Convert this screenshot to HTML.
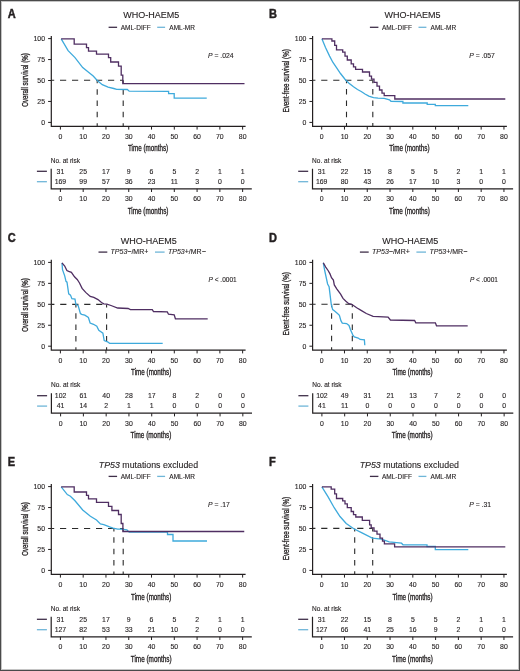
<!DOCTYPE html>
<html><head><meta charset="utf-8"><style>
html,body{margin:0;padding:0;background:#fff;width:520px;height:671px;overflow:hidden}
svg{display:block;filter:blur(0.3px)}
text{font-family:"Liberation Sans", sans-serif;stroke:#231f20;stroke-width:0.12px;paint-order:stroke}
.ax{stroke-width:0.32px}
.lt{stroke-width:0.45px}
</style></head><body>
<svg width="520" height="671" viewBox="0 0 520 671" font-family='"Liberation Sans", sans-serif'>
<rect x="0" y="0" width="520" height="671" fill="#fff"/>
<text x="7.7" y="17.7" font-size="12" text-anchor="start" font-weight="bold" font-style="normal" fill="#231f20" class="lt" transform="translate(7.5 0) scale(0.92 1) translate(-7.5 0)">A</text>
<text x="151.3" y="18.4" font-size="9" text-anchor="middle" font-weight="normal" font-style="normal" fill="#231f20" >WHO-HAEM5</text>
<line x1="108.6" y1="27.3" x2="117.1" y2="27.3" stroke="#3f2f49" stroke-width="1.3"/>
<text x="120.7" y="29.65" font-size="6.5" text-anchor="start" font-weight="normal" font-style="normal" fill="#231f20" >AML-DIFF</text>
<line x1="157.2" y1="27.3" x2="165.1" y2="27.3" stroke="#6fb6d8" stroke-width="1.3"/>
<text x="169.3" y="29.65" font-size="6.5" text-anchor="start" font-weight="normal" font-style="normal" fill="#231f20" >AML-MR</text>
<path d="M51.3 36V126.3H245.6" fill="none" stroke="#231f20" stroke-width="1.2"/>
<line x1="48.1" y1="122.4" x2="51.3" y2="122.4" stroke="#231f20" stroke-width="1"/>
<text x="45" y="124.8" font-size="6.9" text-anchor="end" font-weight="normal" font-style="normal" fill="#231f20" >0</text>
<line x1="48.1" y1="101.45" x2="51.3" y2="101.45" stroke="#231f20" stroke-width="1"/>
<text x="45" y="103.85" font-size="6.9" text-anchor="end" font-weight="normal" font-style="normal" fill="#231f20" >25</text>
<line x1="48.1" y1="80.5" x2="51.3" y2="80.5" stroke="#231f20" stroke-width="1"/>
<text x="45" y="82.9" font-size="6.9" text-anchor="end" font-weight="normal" font-style="normal" fill="#231f20" >50</text>
<line x1="48.1" y1="59.55" x2="51.3" y2="59.55" stroke="#231f20" stroke-width="1"/>
<text x="45" y="61.95" font-size="6.9" text-anchor="end" font-weight="normal" font-style="normal" fill="#231f20" >75</text>
<line x1="48.1" y1="38.6" x2="51.3" y2="38.6" stroke="#231f20" stroke-width="1"/>
<text x="45" y="41" font-size="6.9" text-anchor="end" font-weight="normal" font-style="normal" fill="#231f20" >100</text>
<text transform="translate(28 80) rotate(-90)" x="0" y="0" font-size="8.6" text-anchor="middle" class="ax" fill="#231f20" textLength="53.6" lengthAdjust="spacingAndGlyphs">Overall survival (%)</text>
<line x1="60.4" y1="126.3" x2="60.4" y2="129.6" stroke="#231f20" stroke-width="1"/>
<text x="60.4" y="138.9" font-size="6.9" text-anchor="middle" font-weight="normal" font-style="normal" fill="#231f20" >0</text>
<line x1="83.18" y1="126.3" x2="83.18" y2="129.6" stroke="#231f20" stroke-width="1"/>
<text x="83.18" y="138.9" font-size="6.9" text-anchor="middle" font-weight="normal" font-style="normal" fill="#231f20" >10</text>
<line x1="105.96" y1="126.3" x2="105.96" y2="129.6" stroke="#231f20" stroke-width="1"/>
<text x="105.96" y="138.9" font-size="6.9" text-anchor="middle" font-weight="normal" font-style="normal" fill="#231f20" >20</text>
<line x1="128.74" y1="126.3" x2="128.74" y2="129.6" stroke="#231f20" stroke-width="1"/>
<text x="128.74" y="138.9" font-size="6.9" text-anchor="middle" font-weight="normal" font-style="normal" fill="#231f20" >30</text>
<line x1="151.52" y1="126.3" x2="151.52" y2="129.6" stroke="#231f20" stroke-width="1"/>
<text x="151.52" y="138.9" font-size="6.9" text-anchor="middle" font-weight="normal" font-style="normal" fill="#231f20" >40</text>
<line x1="174.3" y1="126.3" x2="174.3" y2="129.6" stroke="#231f20" stroke-width="1"/>
<text x="174.3" y="138.9" font-size="6.9" text-anchor="middle" font-weight="normal" font-style="normal" fill="#231f20" >50</text>
<line x1="197.08" y1="126.3" x2="197.08" y2="129.6" stroke="#231f20" stroke-width="1"/>
<text x="197.08" y="138.9" font-size="6.9" text-anchor="middle" font-weight="normal" font-style="normal" fill="#231f20" >60</text>
<line x1="219.86" y1="126.3" x2="219.86" y2="129.6" stroke="#231f20" stroke-width="1"/>
<text x="219.86" y="138.9" font-size="6.9" text-anchor="middle" font-weight="normal" font-style="normal" fill="#231f20" >70</text>
<line x1="242.64" y1="126.3" x2="242.64" y2="129.6" stroke="#231f20" stroke-width="1"/>
<text x="242.64" y="138.9" font-size="6.9" text-anchor="middle" font-weight="normal" font-style="normal" fill="#231f20" >80</text>
<text x="148.1" y="150.9" font-size="8.2" text-anchor="middle" font-weight="normal" font-style="normal" fill="#231f20" class="ax" textLength="40.2" lengthAdjust="spacingAndGlyphs">Time (months)</text>
<text x="208" y="58.4" font-size="6.8" text-anchor="start" font-weight="normal" font-style="normal" fill="#231f20" ><tspan font-style="italic">P</tspan> = .024</text>
<text x="50.8" y="162.8" font-size="6.5" text-anchor="start" font-weight="normal" font-style="normal" fill="#231f20" >No. at risk</text>
<line x1="36.9" y1="171.3" x2="46.9" y2="171.3" stroke="#3f2f49" stroke-width="1.3"/>
<line x1="36.9" y1="181.7" x2="46.9" y2="181.7" stroke="#6fb6d8" stroke-width="1.3"/>
<path d="M51.2 168.8V188.8H251.8" fill="none" stroke="#231f20" stroke-width="1.2"/>
<line x1="60.4" y1="188.8" x2="60.4" y2="192" stroke="#231f20" stroke-width="1"/>
<text x="60.4" y="173.6" font-size="6.9" text-anchor="middle" font-weight="normal" font-style="normal" fill="#231f20" >31</text>
<text x="60.4" y="183.7" font-size="6.9" text-anchor="middle" font-weight="normal" font-style="normal" fill="#231f20" >169</text>
<text x="60.4" y="201.2" font-size="6.9" text-anchor="middle" font-weight="normal" font-style="normal" fill="#231f20" >0</text>
<line x1="83.18" y1="188.8" x2="83.18" y2="192" stroke="#231f20" stroke-width="1"/>
<text x="83.18" y="173.6" font-size="6.9" text-anchor="middle" font-weight="normal" font-style="normal" fill="#231f20" >25</text>
<text x="83.18" y="183.7" font-size="6.9" text-anchor="middle" font-weight="normal" font-style="normal" fill="#231f20" >99</text>
<text x="83.18" y="201.2" font-size="6.9" text-anchor="middle" font-weight="normal" font-style="normal" fill="#231f20" >10</text>
<line x1="105.96" y1="188.8" x2="105.96" y2="192" stroke="#231f20" stroke-width="1"/>
<text x="105.96" y="173.6" font-size="6.9" text-anchor="middle" font-weight="normal" font-style="normal" fill="#231f20" >17</text>
<text x="105.96" y="183.7" font-size="6.9" text-anchor="middle" font-weight="normal" font-style="normal" fill="#231f20" >57</text>
<text x="105.96" y="201.2" font-size="6.9" text-anchor="middle" font-weight="normal" font-style="normal" fill="#231f20" >20</text>
<line x1="128.74" y1="188.8" x2="128.74" y2="192" stroke="#231f20" stroke-width="1"/>
<text x="128.74" y="173.6" font-size="6.9" text-anchor="middle" font-weight="normal" font-style="normal" fill="#231f20" >9</text>
<text x="128.74" y="183.7" font-size="6.9" text-anchor="middle" font-weight="normal" font-style="normal" fill="#231f20" >36</text>
<text x="128.74" y="201.2" font-size="6.9" text-anchor="middle" font-weight="normal" font-style="normal" fill="#231f20" >30</text>
<line x1="151.52" y1="188.8" x2="151.52" y2="192" stroke="#231f20" stroke-width="1"/>
<text x="151.52" y="173.6" font-size="6.9" text-anchor="middle" font-weight="normal" font-style="normal" fill="#231f20" >6</text>
<text x="151.52" y="183.7" font-size="6.9" text-anchor="middle" font-weight="normal" font-style="normal" fill="#231f20" >23</text>
<text x="151.52" y="201.2" font-size="6.9" text-anchor="middle" font-weight="normal" font-style="normal" fill="#231f20" >40</text>
<line x1="174.3" y1="188.8" x2="174.3" y2="192" stroke="#231f20" stroke-width="1"/>
<text x="174.3" y="173.6" font-size="6.9" text-anchor="middle" font-weight="normal" font-style="normal" fill="#231f20" >5</text>
<text x="174.3" y="183.7" font-size="6.9" text-anchor="middle" font-weight="normal" font-style="normal" fill="#231f20" >11</text>
<text x="174.3" y="201.2" font-size="6.9" text-anchor="middle" font-weight="normal" font-style="normal" fill="#231f20" >50</text>
<line x1="197.08" y1="188.8" x2="197.08" y2="192" stroke="#231f20" stroke-width="1"/>
<text x="197.08" y="173.6" font-size="6.9" text-anchor="middle" font-weight="normal" font-style="normal" fill="#231f20" >2</text>
<text x="197.08" y="183.7" font-size="6.9" text-anchor="middle" font-weight="normal" font-style="normal" fill="#231f20" >3</text>
<text x="197.08" y="201.2" font-size="6.9" text-anchor="middle" font-weight="normal" font-style="normal" fill="#231f20" >60</text>
<line x1="219.86" y1="188.8" x2="219.86" y2="192" stroke="#231f20" stroke-width="1"/>
<text x="219.86" y="173.6" font-size="6.9" text-anchor="middle" font-weight="normal" font-style="normal" fill="#231f20" >1</text>
<text x="219.86" y="183.7" font-size="6.9" text-anchor="middle" font-weight="normal" font-style="normal" fill="#231f20" >0</text>
<text x="219.86" y="201.2" font-size="6.9" text-anchor="middle" font-weight="normal" font-style="normal" fill="#231f20" >70</text>
<line x1="242.64" y1="188.8" x2="242.64" y2="192" stroke="#231f20" stroke-width="1"/>
<text x="242.64" y="173.6" font-size="6.9" text-anchor="middle" font-weight="normal" font-style="normal" fill="#231f20" >1</text>
<text x="242.64" y="183.7" font-size="6.9" text-anchor="middle" font-weight="normal" font-style="normal" fill="#231f20" >0</text>
<text x="242.64" y="201.2" font-size="6.9" text-anchor="middle" font-weight="normal" font-style="normal" fill="#231f20" >80</text>
<text x="148.1" y="213.6" font-size="8.2" text-anchor="middle" font-weight="normal" font-style="normal" fill="#231f20" class="ax" textLength="40.8" lengthAdjust="spacingAndGlyphs">Time (months)</text>
<text x="269" y="17.7" font-size="12" text-anchor="start" font-weight="bold" font-style="normal" fill="#231f20" class="lt" transform="translate(268.8 0) scale(0.92 1) translate(-268.8 0)">B</text>
<text x="412.6" y="18.4" font-size="9" text-anchor="middle" font-weight="normal" font-style="normal" fill="#231f20" >WHO-HAEM5</text>
<line x1="369.9" y1="27.3" x2="378.4" y2="27.3" stroke="#3f2f49" stroke-width="1.3"/>
<text x="382" y="29.65" font-size="6.5" text-anchor="start" font-weight="normal" font-style="normal" fill="#231f20" >AML-DIFF</text>
<line x1="418.5" y1="27.3" x2="426.4" y2="27.3" stroke="#6fb6d8" stroke-width="1.3"/>
<text x="430.6" y="29.65" font-size="6.5" text-anchor="start" font-weight="normal" font-style="normal" fill="#231f20" >AML-MR</text>
<path d="M312.6 36V126.3H506.9" fill="none" stroke="#231f20" stroke-width="1.2"/>
<line x1="309.4" y1="122.4" x2="312.6" y2="122.4" stroke="#231f20" stroke-width="1"/>
<text x="306.3" y="124.8" font-size="6.9" text-anchor="end" font-weight="normal" font-style="normal" fill="#231f20" >0</text>
<line x1="309.4" y1="101.45" x2="312.6" y2="101.45" stroke="#231f20" stroke-width="1"/>
<text x="306.3" y="103.85" font-size="6.9" text-anchor="end" font-weight="normal" font-style="normal" fill="#231f20" >25</text>
<line x1="309.4" y1="80.5" x2="312.6" y2="80.5" stroke="#231f20" stroke-width="1"/>
<text x="306.3" y="82.9" font-size="6.9" text-anchor="end" font-weight="normal" font-style="normal" fill="#231f20" >50</text>
<line x1="309.4" y1="59.55" x2="312.6" y2="59.55" stroke="#231f20" stroke-width="1"/>
<text x="306.3" y="61.95" font-size="6.9" text-anchor="end" font-weight="normal" font-style="normal" fill="#231f20" >75</text>
<line x1="309.4" y1="38.6" x2="312.6" y2="38.6" stroke="#231f20" stroke-width="1"/>
<text x="306.3" y="41" font-size="6.9" text-anchor="end" font-weight="normal" font-style="normal" fill="#231f20" >100</text>
<text transform="translate(289.3 80.8) rotate(-90)" x="0" y="0" font-size="8.6" text-anchor="middle" class="ax" fill="#231f20" textLength="63.3" lengthAdjust="spacingAndGlyphs">Event-free survival (%)</text>
<line x1="321.7" y1="126.3" x2="321.7" y2="129.6" stroke="#231f20" stroke-width="1"/>
<text x="321.7" y="138.9" font-size="6.9" text-anchor="middle" font-weight="normal" font-style="normal" fill="#231f20" >0</text>
<line x1="344.48" y1="126.3" x2="344.48" y2="129.6" stroke="#231f20" stroke-width="1"/>
<text x="344.48" y="138.9" font-size="6.9" text-anchor="middle" font-weight="normal" font-style="normal" fill="#231f20" >10</text>
<line x1="367.26" y1="126.3" x2="367.26" y2="129.6" stroke="#231f20" stroke-width="1"/>
<text x="367.26" y="138.9" font-size="6.9" text-anchor="middle" font-weight="normal" font-style="normal" fill="#231f20" >20</text>
<line x1="390.04" y1="126.3" x2="390.04" y2="129.6" stroke="#231f20" stroke-width="1"/>
<text x="390.04" y="138.9" font-size="6.9" text-anchor="middle" font-weight="normal" font-style="normal" fill="#231f20" >30</text>
<line x1="412.82" y1="126.3" x2="412.82" y2="129.6" stroke="#231f20" stroke-width="1"/>
<text x="412.82" y="138.9" font-size="6.9" text-anchor="middle" font-weight="normal" font-style="normal" fill="#231f20" >40</text>
<line x1="435.6" y1="126.3" x2="435.6" y2="129.6" stroke="#231f20" stroke-width="1"/>
<text x="435.6" y="138.9" font-size="6.9" text-anchor="middle" font-weight="normal" font-style="normal" fill="#231f20" >50</text>
<line x1="458.38" y1="126.3" x2="458.38" y2="129.6" stroke="#231f20" stroke-width="1"/>
<text x="458.38" y="138.9" font-size="6.9" text-anchor="middle" font-weight="normal" font-style="normal" fill="#231f20" >60</text>
<line x1="481.16" y1="126.3" x2="481.16" y2="129.6" stroke="#231f20" stroke-width="1"/>
<text x="481.16" y="138.9" font-size="6.9" text-anchor="middle" font-weight="normal" font-style="normal" fill="#231f20" >70</text>
<line x1="503.94" y1="126.3" x2="503.94" y2="129.6" stroke="#231f20" stroke-width="1"/>
<text x="503.94" y="138.9" font-size="6.9" text-anchor="middle" font-weight="normal" font-style="normal" fill="#231f20" >80</text>
<text x="409.4" y="150.9" font-size="8.2" text-anchor="middle" font-weight="normal" font-style="normal" fill="#231f20" class="ax" textLength="40.2" lengthAdjust="spacingAndGlyphs">Time (months)</text>
<text x="469.3" y="58.4" font-size="6.8" text-anchor="start" font-weight="normal" font-style="normal" fill="#231f20" ><tspan font-style="italic">P</tspan> = .057</text>
<text x="312.1" y="162.8" font-size="6.5" text-anchor="start" font-weight="normal" font-style="normal" fill="#231f20" >No. at risk</text>
<line x1="298.2" y1="171.3" x2="308.2" y2="171.3" stroke="#3f2f49" stroke-width="1.3"/>
<line x1="298.2" y1="181.7" x2="308.2" y2="181.7" stroke="#6fb6d8" stroke-width="1.3"/>
<path d="M312.5 168.8V188.8H513.1" fill="none" stroke="#231f20" stroke-width="1.2"/>
<line x1="321.7" y1="188.8" x2="321.7" y2="192" stroke="#231f20" stroke-width="1"/>
<text x="321.7" y="173.6" font-size="6.9" text-anchor="middle" font-weight="normal" font-style="normal" fill="#231f20" >31</text>
<text x="321.7" y="183.7" font-size="6.9" text-anchor="middle" font-weight="normal" font-style="normal" fill="#231f20" >169</text>
<text x="321.7" y="201.2" font-size="6.9" text-anchor="middle" font-weight="normal" font-style="normal" fill="#231f20" >0</text>
<line x1="344.48" y1="188.8" x2="344.48" y2="192" stroke="#231f20" stroke-width="1"/>
<text x="344.48" y="173.6" font-size="6.9" text-anchor="middle" font-weight="normal" font-style="normal" fill="#231f20" >22</text>
<text x="344.48" y="183.7" font-size="6.9" text-anchor="middle" font-weight="normal" font-style="normal" fill="#231f20" >80</text>
<text x="344.48" y="201.2" font-size="6.9" text-anchor="middle" font-weight="normal" font-style="normal" fill="#231f20" >10</text>
<line x1="367.26" y1="188.8" x2="367.26" y2="192" stroke="#231f20" stroke-width="1"/>
<text x="367.26" y="173.6" font-size="6.9" text-anchor="middle" font-weight="normal" font-style="normal" fill="#231f20" >15</text>
<text x="367.26" y="183.7" font-size="6.9" text-anchor="middle" font-weight="normal" font-style="normal" fill="#231f20" >43</text>
<text x="367.26" y="201.2" font-size="6.9" text-anchor="middle" font-weight="normal" font-style="normal" fill="#231f20" >20</text>
<line x1="390.04" y1="188.8" x2="390.04" y2="192" stroke="#231f20" stroke-width="1"/>
<text x="390.04" y="173.6" font-size="6.9" text-anchor="middle" font-weight="normal" font-style="normal" fill="#231f20" >8</text>
<text x="390.04" y="183.7" font-size="6.9" text-anchor="middle" font-weight="normal" font-style="normal" fill="#231f20" >26</text>
<text x="390.04" y="201.2" font-size="6.9" text-anchor="middle" font-weight="normal" font-style="normal" fill="#231f20" >30</text>
<line x1="412.82" y1="188.8" x2="412.82" y2="192" stroke="#231f20" stroke-width="1"/>
<text x="412.82" y="173.6" font-size="6.9" text-anchor="middle" font-weight="normal" font-style="normal" fill="#231f20" >5</text>
<text x="412.82" y="183.7" font-size="6.9" text-anchor="middle" font-weight="normal" font-style="normal" fill="#231f20" >17</text>
<text x="412.82" y="201.2" font-size="6.9" text-anchor="middle" font-weight="normal" font-style="normal" fill="#231f20" >40</text>
<line x1="435.6" y1="188.8" x2="435.6" y2="192" stroke="#231f20" stroke-width="1"/>
<text x="435.6" y="173.6" font-size="6.9" text-anchor="middle" font-weight="normal" font-style="normal" fill="#231f20" >5</text>
<text x="435.6" y="183.7" font-size="6.9" text-anchor="middle" font-weight="normal" font-style="normal" fill="#231f20" >10</text>
<text x="435.6" y="201.2" font-size="6.9" text-anchor="middle" font-weight="normal" font-style="normal" fill="#231f20" >50</text>
<line x1="458.38" y1="188.8" x2="458.38" y2="192" stroke="#231f20" stroke-width="1"/>
<text x="458.38" y="173.6" font-size="6.9" text-anchor="middle" font-weight="normal" font-style="normal" fill="#231f20" >2</text>
<text x="458.38" y="183.7" font-size="6.9" text-anchor="middle" font-weight="normal" font-style="normal" fill="#231f20" >3</text>
<text x="458.38" y="201.2" font-size="6.9" text-anchor="middle" font-weight="normal" font-style="normal" fill="#231f20" >60</text>
<line x1="481.16" y1="188.8" x2="481.16" y2="192" stroke="#231f20" stroke-width="1"/>
<text x="481.16" y="173.6" font-size="6.9" text-anchor="middle" font-weight="normal" font-style="normal" fill="#231f20" >1</text>
<text x="481.16" y="183.7" font-size="6.9" text-anchor="middle" font-weight="normal" font-style="normal" fill="#231f20" >0</text>
<text x="481.16" y="201.2" font-size="6.9" text-anchor="middle" font-weight="normal" font-style="normal" fill="#231f20" >70</text>
<line x1="503.94" y1="188.8" x2="503.94" y2="192" stroke="#231f20" stroke-width="1"/>
<text x="503.94" y="173.6" font-size="6.9" text-anchor="middle" font-weight="normal" font-style="normal" fill="#231f20" >1</text>
<text x="503.94" y="183.7" font-size="6.9" text-anchor="middle" font-weight="normal" font-style="normal" fill="#231f20" >0</text>
<text x="503.94" y="201.2" font-size="6.9" text-anchor="middle" font-weight="normal" font-style="normal" fill="#231f20" >80</text>
<text x="409.4" y="213.6" font-size="8.2" text-anchor="middle" font-weight="normal" font-style="normal" fill="#231f20" class="ax" textLength="40.8" lengthAdjust="spacingAndGlyphs">Time (months)</text>
<text x="7.7" y="242.5" font-size="12" text-anchor="start" font-weight="bold" font-style="normal" fill="#231f20" class="lt" transform="translate(7.5 0) scale(0.92 1) translate(-7.5 0)">C</text>
<text x="148.7" y="243.5" font-size="9" text-anchor="middle" font-weight="normal" font-style="normal" fill="#231f20" >WHO-HAEM5</text>
<line x1="98.5" y1="252.1" x2="107.3" y2="252.1" stroke="#3f2f49" stroke-width="1.3"/>
<text x="110.6" y="254.45" font-size="7" text-anchor="start" font-weight="normal" font-style="normal" fill="#231f20" ><tspan font-style="italic">TP53</tspan>−/MR+</text>
<line x1="155" y1="252.1" x2="164.6" y2="252.1" stroke="#6fb6d8" stroke-width="1.3"/>
<text x="168" y="254.45" font-size="7" text-anchor="start" font-weight="normal" font-style="normal" fill="#231f20" ><tspan font-style="italic">TP53</tspan>+/MR−</text>
<path d="M51.3 259.8V350.1H245.6" fill="none" stroke="#231f20" stroke-width="1.2"/>
<line x1="48.1" y1="346.2" x2="51.3" y2="346.2" stroke="#231f20" stroke-width="1"/>
<text x="45" y="348.6" font-size="6.9" text-anchor="end" font-weight="normal" font-style="normal" fill="#231f20" >0</text>
<line x1="48.1" y1="325.25" x2="51.3" y2="325.25" stroke="#231f20" stroke-width="1"/>
<text x="45" y="327.65" font-size="6.9" text-anchor="end" font-weight="normal" font-style="normal" fill="#231f20" >25</text>
<line x1="48.1" y1="304.3" x2="51.3" y2="304.3" stroke="#231f20" stroke-width="1"/>
<text x="45" y="306.7" font-size="6.9" text-anchor="end" font-weight="normal" font-style="normal" fill="#231f20" >50</text>
<line x1="48.1" y1="283.35" x2="51.3" y2="283.35" stroke="#231f20" stroke-width="1"/>
<text x="45" y="285.75" font-size="6.9" text-anchor="end" font-weight="normal" font-style="normal" fill="#231f20" >75</text>
<line x1="48.1" y1="262.4" x2="51.3" y2="262.4" stroke="#231f20" stroke-width="1"/>
<text x="45" y="264.8" font-size="6.9" text-anchor="end" font-weight="normal" font-style="normal" fill="#231f20" >100</text>
<text transform="translate(28 304.95) rotate(-90)" x="0" y="0" font-size="8.6" text-anchor="middle" class="ax" fill="#231f20" textLength="53.6" lengthAdjust="spacingAndGlyphs">Overall survival (%)</text>
<line x1="60.4" y1="350.1" x2="60.4" y2="353.4" stroke="#231f20" stroke-width="1"/>
<text x="60.4" y="362.7" font-size="6.9" text-anchor="middle" font-weight="normal" font-style="normal" fill="#231f20" >0</text>
<line x1="83.18" y1="350.1" x2="83.18" y2="353.4" stroke="#231f20" stroke-width="1"/>
<text x="83.18" y="362.7" font-size="6.9" text-anchor="middle" font-weight="normal" font-style="normal" fill="#231f20" >10</text>
<line x1="105.96" y1="350.1" x2="105.96" y2="353.4" stroke="#231f20" stroke-width="1"/>
<text x="105.96" y="362.7" font-size="6.9" text-anchor="middle" font-weight="normal" font-style="normal" fill="#231f20" >20</text>
<line x1="128.74" y1="350.1" x2="128.74" y2="353.4" stroke="#231f20" stroke-width="1"/>
<text x="128.74" y="362.7" font-size="6.9" text-anchor="middle" font-weight="normal" font-style="normal" fill="#231f20" >30</text>
<line x1="151.52" y1="350.1" x2="151.52" y2="353.4" stroke="#231f20" stroke-width="1"/>
<text x="151.52" y="362.7" font-size="6.9" text-anchor="middle" font-weight="normal" font-style="normal" fill="#231f20" >40</text>
<line x1="174.3" y1="350.1" x2="174.3" y2="353.4" stroke="#231f20" stroke-width="1"/>
<text x="174.3" y="362.7" font-size="6.9" text-anchor="middle" font-weight="normal" font-style="normal" fill="#231f20" >50</text>
<line x1="197.08" y1="350.1" x2="197.08" y2="353.4" stroke="#231f20" stroke-width="1"/>
<text x="197.08" y="362.7" font-size="6.9" text-anchor="middle" font-weight="normal" font-style="normal" fill="#231f20" >60</text>
<line x1="219.86" y1="350.1" x2="219.86" y2="353.4" stroke="#231f20" stroke-width="1"/>
<text x="219.86" y="362.7" font-size="6.9" text-anchor="middle" font-weight="normal" font-style="normal" fill="#231f20" >70</text>
<line x1="242.64" y1="350.1" x2="242.64" y2="353.4" stroke="#231f20" stroke-width="1"/>
<text x="242.64" y="362.7" font-size="6.9" text-anchor="middle" font-weight="normal" font-style="normal" fill="#231f20" >80</text>
<text x="151.2" y="375.3" font-size="8.2" text-anchor="middle" font-weight="normal" font-style="normal" fill="#231f20" class="ax" textLength="40.2" lengthAdjust="spacingAndGlyphs">Time (months)</text>
<text x="208.6" y="282.2" font-size="6.5" text-anchor="start" font-weight="normal" font-style="normal" fill="#231f20" ><tspan font-style="italic">P</tspan> &lt; .0001</text>
<text x="51" y="387.2" font-size="6.5" text-anchor="start" font-weight="normal" font-style="normal" fill="#231f20" >No. at risk</text>
<line x1="37.1" y1="395.7" x2="47.1" y2="395.7" stroke="#3f2f49" stroke-width="1.3"/>
<line x1="37.1" y1="406.1" x2="47.1" y2="406.1" stroke="#6fb6d8" stroke-width="1.3"/>
<path d="M51.4 393.2V413.2H252" fill="none" stroke="#231f20" stroke-width="1.2"/>
<line x1="60.6" y1="413.2" x2="60.6" y2="416.4" stroke="#231f20" stroke-width="1"/>
<text x="60.6" y="398" font-size="6.9" text-anchor="middle" font-weight="normal" font-style="normal" fill="#231f20" >102</text>
<text x="60.6" y="408.1" font-size="6.9" text-anchor="middle" font-weight="normal" font-style="normal" fill="#231f20" >41</text>
<text x="60.6" y="425.6" font-size="6.9" text-anchor="middle" font-weight="normal" font-style="normal" fill="#231f20" >0</text>
<line x1="83.38" y1="413.2" x2="83.38" y2="416.4" stroke="#231f20" stroke-width="1"/>
<text x="83.38" y="398" font-size="6.9" text-anchor="middle" font-weight="normal" font-style="normal" fill="#231f20" >61</text>
<text x="83.38" y="408.1" font-size="6.9" text-anchor="middle" font-weight="normal" font-style="normal" fill="#231f20" >14</text>
<text x="83.38" y="425.6" font-size="6.9" text-anchor="middle" font-weight="normal" font-style="normal" fill="#231f20" >10</text>
<line x1="106.16" y1="413.2" x2="106.16" y2="416.4" stroke="#231f20" stroke-width="1"/>
<text x="106.16" y="398" font-size="6.9" text-anchor="middle" font-weight="normal" font-style="normal" fill="#231f20" >40</text>
<text x="106.16" y="408.1" font-size="6.9" text-anchor="middle" font-weight="normal" font-style="normal" fill="#231f20" >2</text>
<text x="106.16" y="425.6" font-size="6.9" text-anchor="middle" font-weight="normal" font-style="normal" fill="#231f20" >20</text>
<line x1="128.94" y1="413.2" x2="128.94" y2="416.4" stroke="#231f20" stroke-width="1"/>
<text x="128.94" y="398" font-size="6.9" text-anchor="middle" font-weight="normal" font-style="normal" fill="#231f20" >28</text>
<text x="128.94" y="408.1" font-size="6.9" text-anchor="middle" font-weight="normal" font-style="normal" fill="#231f20" >1</text>
<text x="128.94" y="425.6" font-size="6.9" text-anchor="middle" font-weight="normal" font-style="normal" fill="#231f20" >30</text>
<line x1="151.72" y1="413.2" x2="151.72" y2="416.4" stroke="#231f20" stroke-width="1"/>
<text x="151.72" y="398" font-size="6.9" text-anchor="middle" font-weight="normal" font-style="normal" fill="#231f20" >17</text>
<text x="151.72" y="408.1" font-size="6.9" text-anchor="middle" font-weight="normal" font-style="normal" fill="#231f20" >1</text>
<text x="151.72" y="425.6" font-size="6.9" text-anchor="middle" font-weight="normal" font-style="normal" fill="#231f20" >40</text>
<line x1="174.5" y1="413.2" x2="174.5" y2="416.4" stroke="#231f20" stroke-width="1"/>
<text x="174.5" y="398" font-size="6.9" text-anchor="middle" font-weight="normal" font-style="normal" fill="#231f20" >8</text>
<text x="174.5" y="408.1" font-size="6.9" text-anchor="middle" font-weight="normal" font-style="normal" fill="#231f20" >0</text>
<text x="174.5" y="425.6" font-size="6.9" text-anchor="middle" font-weight="normal" font-style="normal" fill="#231f20" >50</text>
<line x1="197.28" y1="413.2" x2="197.28" y2="416.4" stroke="#231f20" stroke-width="1"/>
<text x="197.28" y="398" font-size="6.9" text-anchor="middle" font-weight="normal" font-style="normal" fill="#231f20" >2</text>
<text x="197.28" y="408.1" font-size="6.9" text-anchor="middle" font-weight="normal" font-style="normal" fill="#231f20" >0</text>
<text x="197.28" y="425.6" font-size="6.9" text-anchor="middle" font-weight="normal" font-style="normal" fill="#231f20" >60</text>
<line x1="220.06" y1="413.2" x2="220.06" y2="416.4" stroke="#231f20" stroke-width="1"/>
<text x="220.06" y="398" font-size="6.9" text-anchor="middle" font-weight="normal" font-style="normal" fill="#231f20" >0</text>
<text x="220.06" y="408.1" font-size="6.9" text-anchor="middle" font-weight="normal" font-style="normal" fill="#231f20" >0</text>
<text x="220.06" y="425.6" font-size="6.9" text-anchor="middle" font-weight="normal" font-style="normal" fill="#231f20" >70</text>
<line x1="242.84" y1="413.2" x2="242.84" y2="416.4" stroke="#231f20" stroke-width="1"/>
<text x="242.84" y="398" font-size="6.9" text-anchor="middle" font-weight="normal" font-style="normal" fill="#231f20" >0</text>
<text x="242.84" y="408.1" font-size="6.9" text-anchor="middle" font-weight="normal" font-style="normal" fill="#231f20" >0</text>
<text x="242.84" y="425.6" font-size="6.9" text-anchor="middle" font-weight="normal" font-style="normal" fill="#231f20" >80</text>
<text x="150.9" y="437.7" font-size="8.2" text-anchor="middle" font-weight="normal" font-style="normal" fill="#231f20" class="ax" textLength="40.8" lengthAdjust="spacingAndGlyphs">Time (months)</text>
<text x="269" y="242.5" font-size="12" text-anchor="start" font-weight="bold" font-style="normal" fill="#231f20" class="lt" transform="translate(268.8 0) scale(0.92 1) translate(-268.8 0)">D</text>
<text x="410.3" y="243.5" font-size="9" text-anchor="middle" font-weight="normal" font-style="normal" fill="#231f20" >WHO-HAEM5</text>
<line x1="359.9" y1="252.1" x2="368.7" y2="252.1" stroke="#3f2f49" stroke-width="1.3"/>
<text x="372.1" y="254.45" font-size="7" text-anchor="start" font-weight="normal" font-style="normal" fill="#231f20" ><tspan font-style="italic">TP53</tspan>−/MR+</text>
<line x1="416.4" y1="252.1" x2="426" y2="252.1" stroke="#6fb6d8" stroke-width="1.3"/>
<text x="429.5" y="254.45" font-size="7" text-anchor="start" font-weight="normal" font-style="normal" fill="#231f20" ><tspan font-style="italic">TP53</tspan>+/MR−</text>
<path d="M312.6 259.8V350.1H506.9" fill="none" stroke="#231f20" stroke-width="1.2"/>
<line x1="309.4" y1="346.2" x2="312.6" y2="346.2" stroke="#231f20" stroke-width="1"/>
<text x="306.3" y="348.6" font-size="6.9" text-anchor="end" font-weight="normal" font-style="normal" fill="#231f20" >0</text>
<line x1="309.4" y1="325.25" x2="312.6" y2="325.25" stroke="#231f20" stroke-width="1"/>
<text x="306.3" y="327.65" font-size="6.9" text-anchor="end" font-weight="normal" font-style="normal" fill="#231f20" >25</text>
<line x1="309.4" y1="304.3" x2="312.6" y2="304.3" stroke="#231f20" stroke-width="1"/>
<text x="306.3" y="306.7" font-size="6.9" text-anchor="end" font-weight="normal" font-style="normal" fill="#231f20" >50</text>
<line x1="309.4" y1="283.35" x2="312.6" y2="283.35" stroke="#231f20" stroke-width="1"/>
<text x="306.3" y="285.75" font-size="6.9" text-anchor="end" font-weight="normal" font-style="normal" fill="#231f20" >75</text>
<line x1="309.4" y1="262.4" x2="312.6" y2="262.4" stroke="#231f20" stroke-width="1"/>
<text x="306.3" y="264.8" font-size="6.9" text-anchor="end" font-weight="normal" font-style="normal" fill="#231f20" >100</text>
<text transform="translate(289.3 303.8) rotate(-90)" x="0" y="0" font-size="8.6" text-anchor="middle" class="ax" fill="#231f20" textLength="63.3" lengthAdjust="spacingAndGlyphs">Event-free survival (%)</text>
<line x1="321.7" y1="350.1" x2="321.7" y2="353.4" stroke="#231f20" stroke-width="1"/>
<text x="321.7" y="362.7" font-size="6.9" text-anchor="middle" font-weight="normal" font-style="normal" fill="#231f20" >0</text>
<line x1="344.48" y1="350.1" x2="344.48" y2="353.4" stroke="#231f20" stroke-width="1"/>
<text x="344.48" y="362.7" font-size="6.9" text-anchor="middle" font-weight="normal" font-style="normal" fill="#231f20" >10</text>
<line x1="367.26" y1="350.1" x2="367.26" y2="353.4" stroke="#231f20" stroke-width="1"/>
<text x="367.26" y="362.7" font-size="6.9" text-anchor="middle" font-weight="normal" font-style="normal" fill="#231f20" >20</text>
<line x1="390.04" y1="350.1" x2="390.04" y2="353.4" stroke="#231f20" stroke-width="1"/>
<text x="390.04" y="362.7" font-size="6.9" text-anchor="middle" font-weight="normal" font-style="normal" fill="#231f20" >30</text>
<line x1="412.82" y1="350.1" x2="412.82" y2="353.4" stroke="#231f20" stroke-width="1"/>
<text x="412.82" y="362.7" font-size="6.9" text-anchor="middle" font-weight="normal" font-style="normal" fill="#231f20" >40</text>
<line x1="435.6" y1="350.1" x2="435.6" y2="353.4" stroke="#231f20" stroke-width="1"/>
<text x="435.6" y="362.7" font-size="6.9" text-anchor="middle" font-weight="normal" font-style="normal" fill="#231f20" >50</text>
<line x1="458.38" y1="350.1" x2="458.38" y2="353.4" stroke="#231f20" stroke-width="1"/>
<text x="458.38" y="362.7" font-size="6.9" text-anchor="middle" font-weight="normal" font-style="normal" fill="#231f20" >60</text>
<line x1="481.16" y1="350.1" x2="481.16" y2="353.4" stroke="#231f20" stroke-width="1"/>
<text x="481.16" y="362.7" font-size="6.9" text-anchor="middle" font-weight="normal" font-style="normal" fill="#231f20" >70</text>
<line x1="503.94" y1="350.1" x2="503.94" y2="353.4" stroke="#231f20" stroke-width="1"/>
<text x="503.94" y="362.7" font-size="6.9" text-anchor="middle" font-weight="normal" font-style="normal" fill="#231f20" >80</text>
<text x="412.5" y="375.3" font-size="8.2" text-anchor="middle" font-weight="normal" font-style="normal" fill="#231f20" class="ax" textLength="40.2" lengthAdjust="spacingAndGlyphs">Time (months)</text>
<text x="469.9" y="282.2" font-size="6.5" text-anchor="start" font-weight="normal" font-style="normal" fill="#231f20" ><tspan font-style="italic">P</tspan> &lt; .0001</text>
<text x="312.3" y="387.2" font-size="6.5" text-anchor="start" font-weight="normal" font-style="normal" fill="#231f20" >No. at risk</text>
<line x1="298.4" y1="395.7" x2="308.4" y2="395.7" stroke="#3f2f49" stroke-width="1.3"/>
<line x1="298.4" y1="406.1" x2="308.4" y2="406.1" stroke="#6fb6d8" stroke-width="1.3"/>
<path d="M312.7 393.2V413.2H513.3" fill="none" stroke="#231f20" stroke-width="1.2"/>
<line x1="321.9" y1="413.2" x2="321.9" y2="416.4" stroke="#231f20" stroke-width="1"/>
<text x="321.9" y="398" font-size="6.9" text-anchor="middle" font-weight="normal" font-style="normal" fill="#231f20" >102</text>
<text x="321.9" y="408.1" font-size="6.9" text-anchor="middle" font-weight="normal" font-style="normal" fill="#231f20" >41</text>
<text x="321.9" y="425.6" font-size="6.9" text-anchor="middle" font-weight="normal" font-style="normal" fill="#231f20" >0</text>
<line x1="344.68" y1="413.2" x2="344.68" y2="416.4" stroke="#231f20" stroke-width="1"/>
<text x="344.68" y="398" font-size="6.9" text-anchor="middle" font-weight="normal" font-style="normal" fill="#231f20" >49</text>
<text x="344.68" y="408.1" font-size="6.9" text-anchor="middle" font-weight="normal" font-style="normal" fill="#231f20" >11</text>
<text x="344.68" y="425.6" font-size="6.9" text-anchor="middle" font-weight="normal" font-style="normal" fill="#231f20" >10</text>
<line x1="367.46" y1="413.2" x2="367.46" y2="416.4" stroke="#231f20" stroke-width="1"/>
<text x="367.46" y="398" font-size="6.9" text-anchor="middle" font-weight="normal" font-style="normal" fill="#231f20" >31</text>
<text x="367.46" y="408.1" font-size="6.9" text-anchor="middle" font-weight="normal" font-style="normal" fill="#231f20" >0</text>
<text x="367.46" y="425.6" font-size="6.9" text-anchor="middle" font-weight="normal" font-style="normal" fill="#231f20" >20</text>
<line x1="390.24" y1="413.2" x2="390.24" y2="416.4" stroke="#231f20" stroke-width="1"/>
<text x="390.24" y="398" font-size="6.9" text-anchor="middle" font-weight="normal" font-style="normal" fill="#231f20" >21</text>
<text x="390.24" y="408.1" font-size="6.9" text-anchor="middle" font-weight="normal" font-style="normal" fill="#231f20" >0</text>
<text x="390.24" y="425.6" font-size="6.9" text-anchor="middle" font-weight="normal" font-style="normal" fill="#231f20" >30</text>
<line x1="413.02" y1="413.2" x2="413.02" y2="416.4" stroke="#231f20" stroke-width="1"/>
<text x="413.02" y="398" font-size="6.9" text-anchor="middle" font-weight="normal" font-style="normal" fill="#231f20" >13</text>
<text x="413.02" y="408.1" font-size="6.9" text-anchor="middle" font-weight="normal" font-style="normal" fill="#231f20" >0</text>
<text x="413.02" y="425.6" font-size="6.9" text-anchor="middle" font-weight="normal" font-style="normal" fill="#231f20" >40</text>
<line x1="435.8" y1="413.2" x2="435.8" y2="416.4" stroke="#231f20" stroke-width="1"/>
<text x="435.8" y="398" font-size="6.9" text-anchor="middle" font-weight="normal" font-style="normal" fill="#231f20" >7</text>
<text x="435.8" y="408.1" font-size="6.9" text-anchor="middle" font-weight="normal" font-style="normal" fill="#231f20" >0</text>
<text x="435.8" y="425.6" font-size="6.9" text-anchor="middle" font-weight="normal" font-style="normal" fill="#231f20" >50</text>
<line x1="458.58" y1="413.2" x2="458.58" y2="416.4" stroke="#231f20" stroke-width="1"/>
<text x="458.58" y="398" font-size="6.9" text-anchor="middle" font-weight="normal" font-style="normal" fill="#231f20" >2</text>
<text x="458.58" y="408.1" font-size="6.9" text-anchor="middle" font-weight="normal" font-style="normal" fill="#231f20" >0</text>
<text x="458.58" y="425.6" font-size="6.9" text-anchor="middle" font-weight="normal" font-style="normal" fill="#231f20" >60</text>
<line x1="481.36" y1="413.2" x2="481.36" y2="416.4" stroke="#231f20" stroke-width="1"/>
<text x="481.36" y="398" font-size="6.9" text-anchor="middle" font-weight="normal" font-style="normal" fill="#231f20" >0</text>
<text x="481.36" y="408.1" font-size="6.9" text-anchor="middle" font-weight="normal" font-style="normal" fill="#231f20" >0</text>
<text x="481.36" y="425.6" font-size="6.9" text-anchor="middle" font-weight="normal" font-style="normal" fill="#231f20" >70</text>
<line x1="504.14" y1="413.2" x2="504.14" y2="416.4" stroke="#231f20" stroke-width="1"/>
<text x="504.14" y="398" font-size="6.9" text-anchor="middle" font-weight="normal" font-style="normal" fill="#231f20" >0</text>
<text x="504.14" y="408.1" font-size="6.9" text-anchor="middle" font-weight="normal" font-style="normal" fill="#231f20" >0</text>
<text x="504.14" y="425.6" font-size="6.9" text-anchor="middle" font-weight="normal" font-style="normal" fill="#231f20" >80</text>
<text x="412.2" y="437.7" font-size="8.2" text-anchor="middle" font-weight="normal" font-style="normal" fill="#231f20" class="ax" textLength="40.8" lengthAdjust="spacingAndGlyphs">Time (months)</text>
<text x="7.7" y="466.4" font-size="12" text-anchor="start" font-weight="bold" font-style="normal" fill="#231f20" class="lt" transform="translate(7.5 0) scale(0.92 1) translate(-7.5 0)">E</text>
<text x="148.5" y="467.7" font-size="8.8" text-anchor="middle" font-weight="normal" font-style="normal" fill="#231f20" ><tspan font-style="italic">TP53</tspan> mutations excluded</text>
<line x1="108.6" y1="476.4" x2="117.1" y2="476.4" stroke="#3f2f49" stroke-width="1.3"/>
<text x="120.7" y="478.75" font-size="6.5" text-anchor="start" font-weight="normal" font-style="normal" fill="#231f20" >AML-DIFF</text>
<line x1="157.2" y1="476.4" x2="165.1" y2="476.4" stroke="#6fb6d8" stroke-width="1.3"/>
<text x="169.3" y="478.75" font-size="6.5" text-anchor="start" font-weight="normal" font-style="normal" fill="#231f20" >AML-MR</text>
<path d="M51.3 484V574.3H245.6" fill="none" stroke="#231f20" stroke-width="1.2"/>
<line x1="48.1" y1="570.4" x2="51.3" y2="570.4" stroke="#231f20" stroke-width="1"/>
<text x="45" y="572.8" font-size="6.9" text-anchor="end" font-weight="normal" font-style="normal" fill="#231f20" >0</text>
<line x1="48.1" y1="549.45" x2="51.3" y2="549.45" stroke="#231f20" stroke-width="1"/>
<text x="45" y="551.85" font-size="6.9" text-anchor="end" font-weight="normal" font-style="normal" fill="#231f20" >25</text>
<line x1="48.1" y1="528.5" x2="51.3" y2="528.5" stroke="#231f20" stroke-width="1"/>
<text x="45" y="530.9" font-size="6.9" text-anchor="end" font-weight="normal" font-style="normal" fill="#231f20" >50</text>
<line x1="48.1" y1="507.55" x2="51.3" y2="507.55" stroke="#231f20" stroke-width="1"/>
<text x="45" y="509.95" font-size="6.9" text-anchor="end" font-weight="normal" font-style="normal" fill="#231f20" >75</text>
<line x1="48.1" y1="486.6" x2="51.3" y2="486.6" stroke="#231f20" stroke-width="1"/>
<text x="45" y="489" font-size="6.9" text-anchor="end" font-weight="normal" font-style="normal" fill="#231f20" >100</text>
<text transform="translate(28 529.05) rotate(-90)" x="0" y="0" font-size="8.6" text-anchor="middle" class="ax" fill="#231f20" textLength="53.6" lengthAdjust="spacingAndGlyphs">Overall survival (%)</text>
<line x1="60.4" y1="574.3" x2="60.4" y2="577.6" stroke="#231f20" stroke-width="1"/>
<text x="60.4" y="586.9" font-size="6.9" text-anchor="middle" font-weight="normal" font-style="normal" fill="#231f20" >0</text>
<line x1="83.18" y1="574.3" x2="83.18" y2="577.6" stroke="#231f20" stroke-width="1"/>
<text x="83.18" y="586.9" font-size="6.9" text-anchor="middle" font-weight="normal" font-style="normal" fill="#231f20" >10</text>
<line x1="105.96" y1="574.3" x2="105.96" y2="577.6" stroke="#231f20" stroke-width="1"/>
<text x="105.96" y="586.9" font-size="6.9" text-anchor="middle" font-weight="normal" font-style="normal" fill="#231f20" >20</text>
<line x1="128.74" y1="574.3" x2="128.74" y2="577.6" stroke="#231f20" stroke-width="1"/>
<text x="128.74" y="586.9" font-size="6.9" text-anchor="middle" font-weight="normal" font-style="normal" fill="#231f20" >30</text>
<line x1="151.52" y1="574.3" x2="151.52" y2="577.6" stroke="#231f20" stroke-width="1"/>
<text x="151.52" y="586.9" font-size="6.9" text-anchor="middle" font-weight="normal" font-style="normal" fill="#231f20" >40</text>
<line x1="174.3" y1="574.3" x2="174.3" y2="577.6" stroke="#231f20" stroke-width="1"/>
<text x="174.3" y="586.9" font-size="6.9" text-anchor="middle" font-weight="normal" font-style="normal" fill="#231f20" >50</text>
<line x1="197.08" y1="574.3" x2="197.08" y2="577.6" stroke="#231f20" stroke-width="1"/>
<text x="197.08" y="586.9" font-size="6.9" text-anchor="middle" font-weight="normal" font-style="normal" fill="#231f20" >60</text>
<line x1="219.86" y1="574.3" x2="219.86" y2="577.6" stroke="#231f20" stroke-width="1"/>
<text x="219.86" y="586.9" font-size="6.9" text-anchor="middle" font-weight="normal" font-style="normal" fill="#231f20" >70</text>
<line x1="242.64" y1="574.3" x2="242.64" y2="577.6" stroke="#231f20" stroke-width="1"/>
<text x="242.64" y="586.9" font-size="6.9" text-anchor="middle" font-weight="normal" font-style="normal" fill="#231f20" >80</text>
<text x="151.2" y="599.5" font-size="8.2" text-anchor="middle" font-weight="normal" font-style="normal" fill="#231f20" class="ax" textLength="40.2" lengthAdjust="spacingAndGlyphs">Time (months)</text>
<text x="208" y="506.9" font-size="6.8" text-anchor="start" font-weight="normal" font-style="normal" fill="#231f20" ><tspan font-style="italic">P</tspan> = .17</text>
<text x="50.8" y="610.8" font-size="6.5" text-anchor="start" font-weight="normal" font-style="normal" fill="#231f20" >No. at risk</text>
<line x1="36.9" y1="619.3" x2="46.9" y2="619.3" stroke="#3f2f49" stroke-width="1.3"/>
<line x1="36.9" y1="629.7" x2="46.9" y2="629.7" stroke="#6fb6d8" stroke-width="1.3"/>
<path d="M51.2 616.8V636.8H251.8" fill="none" stroke="#231f20" stroke-width="1.2"/>
<line x1="60.4" y1="636.8" x2="60.4" y2="640" stroke="#231f20" stroke-width="1"/>
<text x="60.4" y="621.6" font-size="6.9" text-anchor="middle" font-weight="normal" font-style="normal" fill="#231f20" >31</text>
<text x="60.4" y="631.7" font-size="6.9" text-anchor="middle" font-weight="normal" font-style="normal" fill="#231f20" >127</text>
<text x="60.4" y="649.2" font-size="6.9" text-anchor="middle" font-weight="normal" font-style="normal" fill="#231f20" >0</text>
<line x1="83.18" y1="636.8" x2="83.18" y2="640" stroke="#231f20" stroke-width="1"/>
<text x="83.18" y="621.6" font-size="6.9" text-anchor="middle" font-weight="normal" font-style="normal" fill="#231f20" >25</text>
<text x="83.18" y="631.7" font-size="6.9" text-anchor="middle" font-weight="normal" font-style="normal" fill="#231f20" >82</text>
<text x="83.18" y="649.2" font-size="6.9" text-anchor="middle" font-weight="normal" font-style="normal" fill="#231f20" >10</text>
<line x1="105.96" y1="636.8" x2="105.96" y2="640" stroke="#231f20" stroke-width="1"/>
<text x="105.96" y="621.6" font-size="6.9" text-anchor="middle" font-weight="normal" font-style="normal" fill="#231f20" >17</text>
<text x="105.96" y="631.7" font-size="6.9" text-anchor="middle" font-weight="normal" font-style="normal" fill="#231f20" >53</text>
<text x="105.96" y="649.2" font-size="6.9" text-anchor="middle" font-weight="normal" font-style="normal" fill="#231f20" >20</text>
<line x1="128.74" y1="636.8" x2="128.74" y2="640" stroke="#231f20" stroke-width="1"/>
<text x="128.74" y="621.6" font-size="6.9" text-anchor="middle" font-weight="normal" font-style="normal" fill="#231f20" >9</text>
<text x="128.74" y="631.7" font-size="6.9" text-anchor="middle" font-weight="normal" font-style="normal" fill="#231f20" >33</text>
<text x="128.74" y="649.2" font-size="6.9" text-anchor="middle" font-weight="normal" font-style="normal" fill="#231f20" >30</text>
<line x1="151.52" y1="636.8" x2="151.52" y2="640" stroke="#231f20" stroke-width="1"/>
<text x="151.52" y="621.6" font-size="6.9" text-anchor="middle" font-weight="normal" font-style="normal" fill="#231f20" >6</text>
<text x="151.52" y="631.7" font-size="6.9" text-anchor="middle" font-weight="normal" font-style="normal" fill="#231f20" >21</text>
<text x="151.52" y="649.2" font-size="6.9" text-anchor="middle" font-weight="normal" font-style="normal" fill="#231f20" >40</text>
<line x1="174.3" y1="636.8" x2="174.3" y2="640" stroke="#231f20" stroke-width="1"/>
<text x="174.3" y="621.6" font-size="6.9" text-anchor="middle" font-weight="normal" font-style="normal" fill="#231f20" >5</text>
<text x="174.3" y="631.7" font-size="6.9" text-anchor="middle" font-weight="normal" font-style="normal" fill="#231f20" >10</text>
<text x="174.3" y="649.2" font-size="6.9" text-anchor="middle" font-weight="normal" font-style="normal" fill="#231f20" >50</text>
<line x1="197.08" y1="636.8" x2="197.08" y2="640" stroke="#231f20" stroke-width="1"/>
<text x="197.08" y="621.6" font-size="6.9" text-anchor="middle" font-weight="normal" font-style="normal" fill="#231f20" >2</text>
<text x="197.08" y="631.7" font-size="6.9" text-anchor="middle" font-weight="normal" font-style="normal" fill="#231f20" >2</text>
<text x="197.08" y="649.2" font-size="6.9" text-anchor="middle" font-weight="normal" font-style="normal" fill="#231f20" >60</text>
<line x1="219.86" y1="636.8" x2="219.86" y2="640" stroke="#231f20" stroke-width="1"/>
<text x="219.86" y="621.6" font-size="6.9" text-anchor="middle" font-weight="normal" font-style="normal" fill="#231f20" >1</text>
<text x="219.86" y="631.7" font-size="6.9" text-anchor="middle" font-weight="normal" font-style="normal" fill="#231f20" >0</text>
<text x="219.86" y="649.2" font-size="6.9" text-anchor="middle" font-weight="normal" font-style="normal" fill="#231f20" >70</text>
<line x1="242.64" y1="636.8" x2="242.64" y2="640" stroke="#231f20" stroke-width="1"/>
<text x="242.64" y="621.6" font-size="6.9" text-anchor="middle" font-weight="normal" font-style="normal" fill="#231f20" >1</text>
<text x="242.64" y="631.7" font-size="6.9" text-anchor="middle" font-weight="normal" font-style="normal" fill="#231f20" >0</text>
<text x="242.64" y="649.2" font-size="6.9" text-anchor="middle" font-weight="normal" font-style="normal" fill="#231f20" >80</text>
<text x="151.2" y="661.9" font-size="8.2" text-anchor="middle" font-weight="normal" font-style="normal" fill="#231f20" class="ax" textLength="40.8" lengthAdjust="spacingAndGlyphs">Time (months)</text>
<text x="269" y="466.4" font-size="12" text-anchor="start" font-weight="bold" font-style="normal" fill="#231f20" class="lt" transform="translate(268.8 0) scale(0.92 1) translate(-268.8 0)">F</text>
<text x="409.3" y="467.7" font-size="8.8" text-anchor="middle" font-weight="normal" font-style="normal" fill="#231f20" ><tspan font-style="italic">TP53</tspan> mutations excluded</text>
<line x1="369.9" y1="476.4" x2="378.4" y2="476.4" stroke="#3f2f49" stroke-width="1.3"/>
<text x="382" y="478.75" font-size="6.5" text-anchor="start" font-weight="normal" font-style="normal" fill="#231f20" >AML-DIFF</text>
<line x1="418.5" y1="476.4" x2="426.4" y2="476.4" stroke="#6fb6d8" stroke-width="1.3"/>
<text x="430.6" y="478.75" font-size="6.5" text-anchor="start" font-weight="normal" font-style="normal" fill="#231f20" >AML-MR</text>
<path d="M312.6 484V574.3H506.9" fill="none" stroke="#231f20" stroke-width="1.2"/>
<line x1="309.4" y1="570.4" x2="312.6" y2="570.4" stroke="#231f20" stroke-width="1"/>
<text x="306.3" y="572.8" font-size="6.9" text-anchor="end" font-weight="normal" font-style="normal" fill="#231f20" >0</text>
<line x1="309.4" y1="549.45" x2="312.6" y2="549.45" stroke="#231f20" stroke-width="1"/>
<text x="306.3" y="551.85" font-size="6.9" text-anchor="end" font-weight="normal" font-style="normal" fill="#231f20" >25</text>
<line x1="309.4" y1="528.5" x2="312.6" y2="528.5" stroke="#231f20" stroke-width="1"/>
<text x="306.3" y="530.9" font-size="6.9" text-anchor="end" font-weight="normal" font-style="normal" fill="#231f20" >50</text>
<line x1="309.4" y1="507.55" x2="312.6" y2="507.55" stroke="#231f20" stroke-width="1"/>
<text x="306.3" y="509.95" font-size="6.9" text-anchor="end" font-weight="normal" font-style="normal" fill="#231f20" >75</text>
<line x1="309.4" y1="486.6" x2="312.6" y2="486.6" stroke="#231f20" stroke-width="1"/>
<text x="306.3" y="489" font-size="6.9" text-anchor="end" font-weight="normal" font-style="normal" fill="#231f20" >100</text>
<text transform="translate(289.3 528.6) rotate(-90)" x="0" y="0" font-size="8.6" text-anchor="middle" class="ax" fill="#231f20" textLength="63.3" lengthAdjust="spacingAndGlyphs">Event-free survival (%)</text>
<line x1="321.7" y1="574.3" x2="321.7" y2="577.6" stroke="#231f20" stroke-width="1"/>
<text x="321.7" y="586.9" font-size="6.9" text-anchor="middle" font-weight="normal" font-style="normal" fill="#231f20" >0</text>
<line x1="344.48" y1="574.3" x2="344.48" y2="577.6" stroke="#231f20" stroke-width="1"/>
<text x="344.48" y="586.9" font-size="6.9" text-anchor="middle" font-weight="normal" font-style="normal" fill="#231f20" >10</text>
<line x1="367.26" y1="574.3" x2="367.26" y2="577.6" stroke="#231f20" stroke-width="1"/>
<text x="367.26" y="586.9" font-size="6.9" text-anchor="middle" font-weight="normal" font-style="normal" fill="#231f20" >20</text>
<line x1="390.04" y1="574.3" x2="390.04" y2="577.6" stroke="#231f20" stroke-width="1"/>
<text x="390.04" y="586.9" font-size="6.9" text-anchor="middle" font-weight="normal" font-style="normal" fill="#231f20" >30</text>
<line x1="412.82" y1="574.3" x2="412.82" y2="577.6" stroke="#231f20" stroke-width="1"/>
<text x="412.82" y="586.9" font-size="6.9" text-anchor="middle" font-weight="normal" font-style="normal" fill="#231f20" >40</text>
<line x1="435.6" y1="574.3" x2="435.6" y2="577.6" stroke="#231f20" stroke-width="1"/>
<text x="435.6" y="586.9" font-size="6.9" text-anchor="middle" font-weight="normal" font-style="normal" fill="#231f20" >50</text>
<line x1="458.38" y1="574.3" x2="458.38" y2="577.6" stroke="#231f20" stroke-width="1"/>
<text x="458.38" y="586.9" font-size="6.9" text-anchor="middle" font-weight="normal" font-style="normal" fill="#231f20" >60</text>
<line x1="481.16" y1="574.3" x2="481.16" y2="577.6" stroke="#231f20" stroke-width="1"/>
<text x="481.16" y="586.9" font-size="6.9" text-anchor="middle" font-weight="normal" font-style="normal" fill="#231f20" >70</text>
<line x1="503.94" y1="574.3" x2="503.94" y2="577.6" stroke="#231f20" stroke-width="1"/>
<text x="503.94" y="586.9" font-size="6.9" text-anchor="middle" font-weight="normal" font-style="normal" fill="#231f20" >80</text>
<text x="412.5" y="599.5" font-size="8.2" text-anchor="middle" font-weight="normal" font-style="normal" fill="#231f20" class="ax" textLength="40.2" lengthAdjust="spacingAndGlyphs">Time (months)</text>
<text x="469.3" y="506.9" font-size="6.8" text-anchor="start" font-weight="normal" font-style="normal" fill="#231f20" ><tspan font-style="italic">P</tspan> = .31</text>
<text x="312.1" y="610.8" font-size="6.5" text-anchor="start" font-weight="normal" font-style="normal" fill="#231f20" >No. at risk</text>
<line x1="298.2" y1="619.3" x2="308.2" y2="619.3" stroke="#3f2f49" stroke-width="1.3"/>
<line x1="298.2" y1="629.7" x2="308.2" y2="629.7" stroke="#6fb6d8" stroke-width="1.3"/>
<path d="M312.5 616.8V636.8H513.1" fill="none" stroke="#231f20" stroke-width="1.2"/>
<line x1="321.7" y1="636.8" x2="321.7" y2="640" stroke="#231f20" stroke-width="1"/>
<text x="321.7" y="621.6" font-size="6.9" text-anchor="middle" font-weight="normal" font-style="normal" fill="#231f20" >31</text>
<text x="321.7" y="631.7" font-size="6.9" text-anchor="middle" font-weight="normal" font-style="normal" fill="#231f20" >127</text>
<text x="321.7" y="649.2" font-size="6.9" text-anchor="middle" font-weight="normal" font-style="normal" fill="#231f20" >0</text>
<line x1="344.48" y1="636.8" x2="344.48" y2="640" stroke="#231f20" stroke-width="1"/>
<text x="344.48" y="621.6" font-size="6.9" text-anchor="middle" font-weight="normal" font-style="normal" fill="#231f20" >22</text>
<text x="344.48" y="631.7" font-size="6.9" text-anchor="middle" font-weight="normal" font-style="normal" fill="#231f20" >66</text>
<text x="344.48" y="649.2" font-size="6.9" text-anchor="middle" font-weight="normal" font-style="normal" fill="#231f20" >10</text>
<line x1="367.26" y1="636.8" x2="367.26" y2="640" stroke="#231f20" stroke-width="1"/>
<text x="367.26" y="621.6" font-size="6.9" text-anchor="middle" font-weight="normal" font-style="normal" fill="#231f20" >15</text>
<text x="367.26" y="631.7" font-size="6.9" text-anchor="middle" font-weight="normal" font-style="normal" fill="#231f20" >41</text>
<text x="367.26" y="649.2" font-size="6.9" text-anchor="middle" font-weight="normal" font-style="normal" fill="#231f20" >20</text>
<line x1="390.04" y1="636.8" x2="390.04" y2="640" stroke="#231f20" stroke-width="1"/>
<text x="390.04" y="621.6" font-size="6.9" text-anchor="middle" font-weight="normal" font-style="normal" fill="#231f20" >8</text>
<text x="390.04" y="631.7" font-size="6.9" text-anchor="middle" font-weight="normal" font-style="normal" fill="#231f20" >25</text>
<text x="390.04" y="649.2" font-size="6.9" text-anchor="middle" font-weight="normal" font-style="normal" fill="#231f20" >30</text>
<line x1="412.82" y1="636.8" x2="412.82" y2="640" stroke="#231f20" stroke-width="1"/>
<text x="412.82" y="621.6" font-size="6.9" text-anchor="middle" font-weight="normal" font-style="normal" fill="#231f20" >5</text>
<text x="412.82" y="631.7" font-size="6.9" text-anchor="middle" font-weight="normal" font-style="normal" fill="#231f20" >16</text>
<text x="412.82" y="649.2" font-size="6.9" text-anchor="middle" font-weight="normal" font-style="normal" fill="#231f20" >40</text>
<line x1="435.6" y1="636.8" x2="435.6" y2="640" stroke="#231f20" stroke-width="1"/>
<text x="435.6" y="621.6" font-size="6.9" text-anchor="middle" font-weight="normal" font-style="normal" fill="#231f20" >5</text>
<text x="435.6" y="631.7" font-size="6.9" text-anchor="middle" font-weight="normal" font-style="normal" fill="#231f20" >9</text>
<text x="435.6" y="649.2" font-size="6.9" text-anchor="middle" font-weight="normal" font-style="normal" fill="#231f20" >50</text>
<line x1="458.38" y1="636.8" x2="458.38" y2="640" stroke="#231f20" stroke-width="1"/>
<text x="458.38" y="621.6" font-size="6.9" text-anchor="middle" font-weight="normal" font-style="normal" fill="#231f20" >2</text>
<text x="458.38" y="631.7" font-size="6.9" text-anchor="middle" font-weight="normal" font-style="normal" fill="#231f20" >2</text>
<text x="458.38" y="649.2" font-size="6.9" text-anchor="middle" font-weight="normal" font-style="normal" fill="#231f20" >60</text>
<line x1="481.16" y1="636.8" x2="481.16" y2="640" stroke="#231f20" stroke-width="1"/>
<text x="481.16" y="621.6" font-size="6.9" text-anchor="middle" font-weight="normal" font-style="normal" fill="#231f20" >1</text>
<text x="481.16" y="631.7" font-size="6.9" text-anchor="middle" font-weight="normal" font-style="normal" fill="#231f20" >0</text>
<text x="481.16" y="649.2" font-size="6.9" text-anchor="middle" font-weight="normal" font-style="normal" fill="#231f20" >70</text>
<line x1="503.94" y1="636.8" x2="503.94" y2="640" stroke="#231f20" stroke-width="1"/>
<text x="503.94" y="621.6" font-size="6.9" text-anchor="middle" font-weight="normal" font-style="normal" fill="#231f20" >1</text>
<text x="503.94" y="631.7" font-size="6.9" text-anchor="middle" font-weight="normal" font-style="normal" fill="#231f20" >0</text>
<text x="503.94" y="649.2" font-size="6.9" text-anchor="middle" font-weight="normal" font-style="normal" fill="#231f20" >80</text>
<text x="412.5" y="661.9" font-size="8.2" text-anchor="middle" font-weight="normal" font-style="normal" fill="#231f20" class="ax" textLength="40.8" lengthAdjust="spacingAndGlyphs">Time (months)</text>
<path d="M51.4 80.3H123.2" fill="none" stroke="#2a2a2a" stroke-width="1.1" stroke-dasharray="6.2 5.8" stroke-dashoffset="3.4"/>
<path d="M97.2 80.3V126.3" fill="none" stroke="#2a2a2a" stroke-width="1.1" stroke-dasharray="5.5 5.85" stroke-dashoffset="2.5"/>
<path d="M123.2 80.3V126.3" fill="none" stroke="#2a2a2a" stroke-width="1.1" stroke-dasharray="5.5 5.85" stroke-dashoffset="2.5"/>
<path d="M312.6 80.2H372.8" fill="none" stroke="#2a2a2a" stroke-width="1.1" stroke-dasharray="6.2 5.8" stroke-dashoffset="3.4"/>
<path d="M346.5 80.2V126.3" fill="none" stroke="#2a2a2a" stroke-width="1.1" stroke-dasharray="5.5 5.85" stroke-dashoffset="2.5"/>
<path d="M372.8 80.2V126.3" fill="none" stroke="#2a2a2a" stroke-width="1.1" stroke-dasharray="5.5 5.85" stroke-dashoffset="2.5"/>
<path d="M51.6 304.4H106.6" fill="none" stroke="#2a2a2a" stroke-width="1.1" stroke-dasharray="6.2 5.8" stroke-dashoffset="3.4"/>
<path d="M75.9 304.4V350.1" fill="none" stroke="#2a2a2a" stroke-width="1.1" stroke-dasharray="5.5 5.85" stroke-dashoffset="2.5"/>
<path d="M106.6 304.4V350.1" fill="none" stroke="#2a2a2a" stroke-width="1.1" stroke-dasharray="5.5 5.85" stroke-dashoffset="2.5"/>
<path d="M312.8 304.3H352.3" fill="none" stroke="#2a2a2a" stroke-width="1.1" stroke-dasharray="6.2 5.8" stroke-dashoffset="3.4"/>
<path d="M331.6 304.3V350.1" fill="none" stroke="#2a2a2a" stroke-width="1.1" stroke-dasharray="5.5 5.85" stroke-dashoffset="2.5"/>
<path d="M352.3 304.3V350.1" fill="none" stroke="#2a2a2a" stroke-width="1.1" stroke-dasharray="5.5 5.85" stroke-dashoffset="2.5"/>
<path d="M51.4 528.5H123.2" fill="none" stroke="#2a2a2a" stroke-width="1.1" stroke-dasharray="6.2 5.8" stroke-dashoffset="3.4"/>
<path d="M113.9 528.5V574.3" fill="none" stroke="#2a2a2a" stroke-width="1.1" stroke-dasharray="5.5 5.85" stroke-dashoffset="2.5"/>
<path d="M123.2 528.5V574.3" fill="none" stroke="#2a2a2a" stroke-width="1.1" stroke-dasharray="5.5 5.85" stroke-dashoffset="2.5"/>
<path d="M312.6 528.4H372.7" fill="none" stroke="#2a2a2a" stroke-width="1.1" stroke-dasharray="6.2 5.8" stroke-dashoffset="3.4"/>
<path d="M354.7 528.4V574.3" fill="none" stroke="#2a2a2a" stroke-width="1.1" stroke-dasharray="5.5 5.85" stroke-dashoffset="2.5"/>
<path d="M372.7 528.4V574.3" fill="none" stroke="#2a2a2a" stroke-width="1.1" stroke-dasharray="5.5 5.85" stroke-dashoffset="2.5"/>
<polyline points="61.2,38.8 68.1,50.7 75,57.6 82.7,67.6 90.4,73.8 93.2,76 97.5,80.8 102.3,84.7 108.1,87.1 113.8,88.5 116.7,89.3 127.3,89.5 129.2,91.2 168.6,91.4 168.6,93.6 174.2,93.6 174.2,98.2 206.75,98.2" fill="none" stroke="#3eaadc" stroke-width="1.3" stroke-linejoin="miter"/>
<polyline points="61.15,38.85 74.2,38.85 74.2,44.1 86.5,44.1 86.5,47.6 88.5,47.6 88.5,51.2 96.5,51.2 96.5,54.2 108.5,54.2 108.5,57.6 110.7,57.6 110.7,62 118.5,62 118.5,66.2 121.2,66.2 121.2,75.2 122.8,75.2 122.8,83.6 244.5,83.6" fill="none" stroke="#4f2e62" stroke-width="1.3" stroke-linejoin="miter"/>
<polyline points="321.9,38.8 325.5,47.5 329.6,56.1 332.8,62.2 336.5,67.6 340.5,73.5 345,79.2 349,83.2 353.5,86.8 357.5,89.5 361.2,91.5 365,94 368.8,96.1 373.5,97.6 378,98.1 384.2,98.4 389.5,99.8 391,101.3 402.9,101.5 402.9,103 427.2,103 427.2,104.3 435.3,104.3 435.3,105.7 468.3,105.7" fill="none" stroke="#3eaadc" stroke-width="1.3" stroke-linejoin="miter"/>
<polyline points="321.9,38.8 331.9,38.8 331.9,41 334.7,41 334.7,45.3 336.5,45.3 336.5,49.9 342.7,49.9 342.7,52.2 345,52.2 345,56.1 347.3,56.1 347.3,60 351.2,60 351.2,63.8 353.5,63.8 353.5,66.8 355.6,66.8 355.6,69.3 362.5,69.3 362.5,72 369.5,72 369.5,76.1 371.5,76.1 371.5,79.2 374,79.2 374,82.3 377,82.3 377,86.2 379.5,86.2 379.5,90 382,90 382,93.1 384.2,93.1 384.2,95.7 394.8,95.7 394.8,99 505.3,99" fill="none" stroke="#4f2e62" stroke-width="1.3" stroke-linejoin="miter"/>
<polyline points="62,262.9 62.5,269.6 64.7,275.9 66,281.3 67,282.2 68.7,293.8 70.5,295.1 71.9,298.7 75,299.1 75.9,304.5 78.1,305.4 80.4,313.5 81.7,314.4 84.8,315.2 88.4,317.5 90.1,323 93.5,324.3 96.8,326.3 98.8,330.4 102.9,333.1 104.2,340.5 107.6,341.8 109.6,343.3 162.7,343.3" fill="none" stroke="#3eaadc" stroke-width="1.3" stroke-linejoin="miter"/>
<polyline points="62,262.9 64.7,266 66.9,270.5 68.7,271.4 71.4,272.3 74.5,276.8 77.2,279.5 79.5,283 82.1,288.4 85.7,292.4 90.2,296.5 93.8,297.4 98,299.6 101.5,302.5 103.8,303.8 106.9,304.1 111,305.5 117.7,308 128.1,308.5 130.4,309.6 152.3,309.6 153.5,311.5 167.3,311.9 168.5,314.2 174.2,314.9 175.4,318.8 207.7,318.8" fill="none" stroke="#4f2e62" stroke-width="1.3" stroke-linejoin="miter"/>
<polyline points="323.3,262.8 324.7,270.5 327.6,284 329.1,286.8 331.25,304.3 332.7,309.6 334.6,311.1 337.5,313.5 339.4,315.4 340.9,320.7 342.3,323.1 346.6,323.6 349,325.5 350.5,329.8 352.9,335.1 354.3,337 358.2,338 360.1,339.4 364.4,339.9 364.8,345.3" fill="none" stroke="#3eaadc" stroke-width="1.3" stroke-linejoin="miter"/>
<polyline points="323.3,262.8 325.7,267.1 328.1,270.5 330,273.9 331.5,277.7 333.4,280.1 334.3,284.9 336.75,288.8 340.6,294.1 343,298.4 345.9,301.3 348.8,303.7 351.7,304.3 356.7,307.7 361.5,310.6 366.3,313.5 373.1,316.4 388.1,317.2 390.4,320 414.6,320.5 415.8,322.8 435.4,322.8 436.5,325.8 467.7,325.8" fill="none" stroke="#4f2e62" stroke-width="1.3" stroke-linejoin="miter"/>
<polyline points="61.2,486.9 67.3,494.6 70.4,496.2 75,500.8 82.7,510 90.4,516.2 96.5,520 100.4,524 103.8,524.6 109.6,526.9 113.1,528.1 117.7,529.2 121.1,529.2 126.9,529.8 129.2,532.2 167.5,532.2 167.5,534.5 173,534.5 173,541 207,541" fill="none" stroke="#3eaadc" stroke-width="1.3" stroke-linejoin="miter"/>
<polyline points="61.2,486.9 74.2,486.9 74.2,492 86.5,492 86.5,495.4 88.5,495.4 88.5,498.8 96.5,498.8 96.5,502.3 108.5,502.3 108.5,506.4 111.9,506.4 111.9,510.5 118.5,510.5 118.5,514.5 121.2,514.5 121.2,523.5 122.9,523.5 122.9,531.5 244.25,531.5" fill="none" stroke="#4f2e62" stroke-width="1.3" stroke-linejoin="miter"/>
<polyline points="321.9,486.9 328.1,496.9 334.2,507.7 340,516.5 346.2,523.5 353.8,528.8 361.5,532.7 372.3,538.1 381.5,539.2 389.2,541.9 401.5,543.2 403,544.8 427,544.8 427,546.5 435.3,546.5 435.3,549.7 468.3,549.7" fill="none" stroke="#3eaadc" stroke-width="1.3" stroke-linejoin="miter"/>
<polyline points="321.9,486.9 331.2,486.9 331.2,489.2 334.7,489.2 334.7,493.8 336.5,493.8 336.5,498.5 342.7,498.5 342.7,500.8 345,500.8 345,503.8 347.3,503.8 347.3,507.7 351.2,507.7 351.2,511.5 353.5,511.5 353.5,514.6 355.8,514.6 355.8,517 362.3,517 362.3,520.4 369.6,520.4 369.6,524.8 371.2,524.8 371.2,527.9 374,527.9 374,531.2 377,531.2 377,534.2 380,534.2 380,538.1 382.5,538.1 382.5,541.2 384.4,541.2 384.4,543.8 394.6,543.8 394.6,546.8 505.3,546.8" fill="none" stroke="#4f2e62" stroke-width="1.3" stroke-linejoin="miter"/>
<rect x="1.5" y="1.5" width="517" height="668" fill="none" stroke="#c4c4c4" stroke-width="1"/>
<rect x="0.5" y="0.5" width="519" height="670" fill="none" stroke="#4a4a4a" stroke-width="1"/>
</svg>
</body></html>
